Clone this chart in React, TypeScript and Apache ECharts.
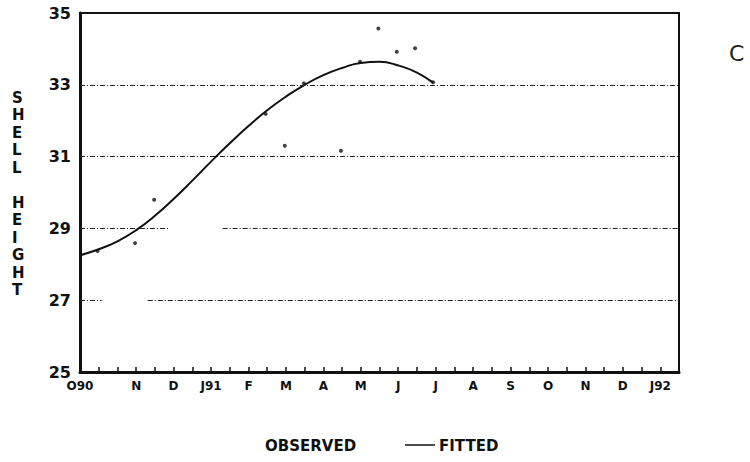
import React, { useEffect, useRef } from "react";
import * as echarts from "echarts";

// Month labels (Oct 1990 – Jan 1992); x is measured in months from 1 Oct 1990
const monthLabels = ["O90", "N", "D", "J91", "F", "M", "A", "M", "J", "J", "A", "S", "O", "N", "D", "J92"];
const yTicks = [25, 27, 29, 31, 33, 35];

// Observed shell heights
const observedMonth = [0.47, 1.47, 1.98, 4.96, 5.47, 5.98, 6.97, 7.48, 7.97, 8.46, 8.95, 9.43];
const observedHeight = [28.37, 28.59, 29.8, 32.19, 31.3, 33.04, 31.16, 33.64, 34.57, 33.92, 34.02, 33.07];

// Fitted growth curve
const fittedMonth = [0, 0.5, 1, 1.5, 2, 2.5, 3, 3.5, 4, 4.5, 5, 5.5, 6, 6.5, 7, 7.5, 8, 8.5, 9, 9.43];
const fittedHeight = [28.25, 28.42, 28.64, 28.95, 29.35, 29.82, 30.33, 30.86, 31.37, 31.85, 32.29, 32.67, 33.0, 33.27, 33.47, 33.61, 33.64, 33.54, 33.34, 33.06];

// Horizontal reference lines: [value, from month, to month]
const refLines: [number, number, number][] = [
  [33, 0, 16],
  [31, 0, 16],
  [29, 0, 2.4],
  [29, 3.81, 16],
  [27, 0, 0.58],
  [27, 1.81, 16],
];

const FONT = "'DejaVu Sans', 'Liberation Sans', sans-serif";

export default function App() {
  const ref = useRef<HTMLDivElement>(null);

  useEffect(() => {
    if (!ref.current) return;
    const chart = echarts.init(ref.current, null, { renderer: "svg" });

    const observed = observedMonth.map((m, i) => [m, observedHeight[i]]);
    const fitted = fittedMonth.map((m, i) => [m, fittedHeight[i]]);

    chart.setOption({
      animation: false,
      backgroundColor: "#ffffff",
      grid: {
        left: 80,
        right: 71,
        top: 13,
        bottom: 90,
        show: true,
        borderColor: "#111",
        borderWidth: 2,
        backgroundColor: "transparent",
      },
      xAxis: {
        type: "value",
        min: 0,
        max: 16,
        interval: 0.5,
        axisLine: { show: true, lineStyle: { color: "#111", width: 3 } },
        axisTick: { show: true, inside: true, length: 5, lineStyle: { color: "#111", width: 1.5 } },
        splitLine: { show: false },
        axisLabel: {
          showMinLabel: true,
          showMaxLabel: true,
          hideOverlap: false,
          margin: 8,
          color: "#111",
          fontFamily: FONT,
          fontWeight: "bold",
          fontSize: 12,
          formatter: (v: number) => {
            if (v === 0) return monthLabels[0];
            const k = v - 0.5;
            if (Number.isInteger(k) && k >= 1 && k < monthLabels.length) return monthLabels[k];
            return "";
          },
        },
      },
      yAxis: {
        type: "value",
        min: yTicks[0],
        max: yTicks[yTicks.length - 1],
        interval: 2,
        axisLine: { show: true, lineStyle: { color: "#111", width: 3 } },
        axisTick: { show: false },
        splitLine: { show: false },
        axisLabel: {
          margin: 9,
          color: "#111",
          fontFamily: FONT,
          fontWeight: "bold",
          fontSize: 16,
        },
      },
      series: [
        {
          name: "OBSERVED",
          type: "scatter",
          data: observed,
          symbol: "circle",
          symbolSize: 4,
          itemStyle: { color: "#111" },
          z: 3,
          markLine: {
            silent: true,
            symbol: "none",
            label: { show: false },
            lineStyle: { color: "#222", width: 1, type: [5, 2, 1, 2] },
            data: refLines.map(([v, a, b]) => [{ coord: [a, v] }, { coord: [b, v] }]),
          },
        },
        {
          name: "FITTED",
          type: "line",
          data: fitted,
          smooth: 0.5,
          showSymbol: false,
          lineStyle: { color: "#111", width: 2 },
          z: 4,
        },
      ],
      graphic: [
        {
          type: "text",
          left: 12,
          top: 89,
          style: {
            text: "S\nH\nE\nL\nL\n\nH\nE\nI\nG\nH\nT",
            fill: "#111",
            font: `bold 15px ${FONT}`,
            lineHeight: 17.5,
            align: "center",
          },
        },
        {
          type: "text",
          left: 265,
          top: 438,
          style: { text: "OBSERVED", fill: "#111", font: `bold 15px ${FONT}` },
        },
        {
          type: "line",
          shape: { x1: 405, y1: 445, x2: 435, y2: 445 },
          style: { stroke: "#111", lineWidth: 1.5 },
        },
        {
          type: "text",
          left: 439,
          top: 438,
          style: { text: "FITTED", fill: "#111", font: `bold 15px ${FONT}` },
        },
        {
          type: "text",
          left: 729,
          top: 42,
          style: { text: "C", fill: "#222", font: `22px ${FONT}` },
        },
      ],
    });

    return () => chart.dispose();
  }, []);

  return (
    <div
      ref={ref}
      style={{ position: "fixed", left: 0, top: 0, width: 750, height: 462 }}
    />
  );
}
